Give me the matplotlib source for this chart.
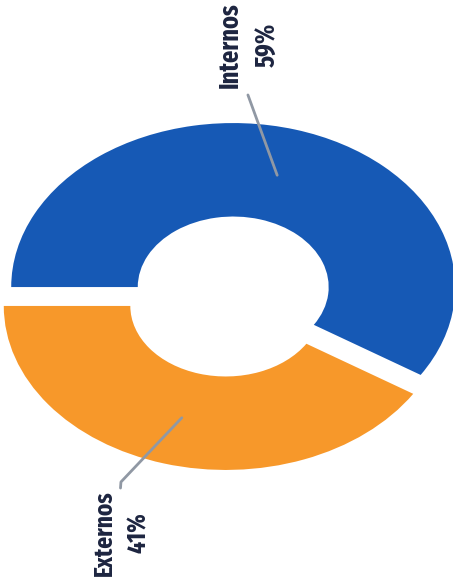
import matplotlib
matplotlib.use("Agg")
import matplotlib.pyplot as plt
from matplotlib import font_manager as fm
import numpy as np

# Data
labels = ["Internos", "Externos"]
values = [59, 41]
colors = ["#1659B5", "#F7982A"]
explode = [0.06, 0.06]

# Label block positions (data units) and the label-side ends of leader lines
label_pos = {"Internos": (0.088, 1.534), "Externos": (-0.486, -1.442)}
leader_tail = {"Internos": [(0.083, 1.229)],
               "Externos": [(-0.491, -1.168), (-0.489, -1.131)]}


def pick_label_font():
    """Prefer the narrowest bold face available for the labels."""
    def width_rank(f):
        key = (f.name + " " + f.fname + " " + str(f.stretch)).lower().replace("-", "").replace(" ", "")
        if "ultracondensed" in key or "extracondensed" in key:
            return 0
        if "semicondensed" in key:
            return 2
        if "condensed" in key or "narrow" in key:
            return 1
        return 9

    def weight_rank(f):
        w = f.weight
        if isinstance(w, str):
            w = {"bold": 700, "semibold": 600, "demibold": 600, "heavy": 800,
                 "extra bold": 800, "black": 900}.get(w.lower(), 400)
        return abs(w - 700)

    cands = [f for f in fm.fontManager.ttflist if width_rank(f) < 9
             and "italic" not in f.style.lower() and "oblique" not in f.style.lower()]
    if cands:
        best = sorted(cands, key=lambda f: (weight_rank(f) > 100, width_rank(f),
                                            weight_rank(f), f.fname))[0]
        return fm.FontProperties(fname=best.fname)
    return fm.FontProperties(family="Liberation Sans", weight="bold")


W, H = 453, 585
fig = plt.figure(figsize=(W / 100, H / 100), dpi=100)
fig.patch.set_facecolor("white")

# The ring is drawn flattened: unit radius spans rx pixels across, ry pixels down
cx, cy = 229.5, 296.5
rx, ry = 222, 164
xl, yl = 1.1, 1.2
ax = fig.add_axes([(cx - xl * rx) / W, ((H - cy) - yl * ry) / H,
                   2 * xl * rx / W, 2 * yl * ry / H])

wedges, _ = ax.pie(values, colors=colors, startangle=180, counterclock=False,
                   explode=explode, wedgeprops=dict(width=0.57, linewidth=0))
ax.set_aspect('auto')
ax.set_xlim(-xl, xl)
ax.set_ylim(-yl, yl)
ax.axis('off')

fp = pick_label_font()
renderer = fig.canvas.get_renderer()
texts = []
for w, lab, v, ex in zip(wedges, labels, values, explode):
    mid = np.deg2rad((w.theta1 + w.theta2) / 2)
    r = 0.71 + ex
    tip = (r * np.cos(mid), r * np.sin(mid))
    pts = leader_tail[lab] + [tip]
    xs, ys = zip(*pts)
    ax.plot(xs, ys, color="#9098a4", lw=2.0, solid_capstyle='round', clip_on=False)
    tx, ty = label_pos[lab]
    t = ax.text(tx, ty, f"{lab}\n{v}%", rotation=90, ha='center', va='center',
                multialignment='center', linespacing=1.5, fontproperties=fp,
                fontsize=20, color="#1d2540", clip_on=False)
    texts.append(t)

# Size the labels so the word runs about 84 px along the rotated baseline
for t in texts:
    t.set_fontsize(20)
    h = t.get_window_extent(renderer).height
    t.set_fontsize(min(24, 20 * 86.0 / h))

fig.savefig("out.png", dpi=100, facecolor="white")
